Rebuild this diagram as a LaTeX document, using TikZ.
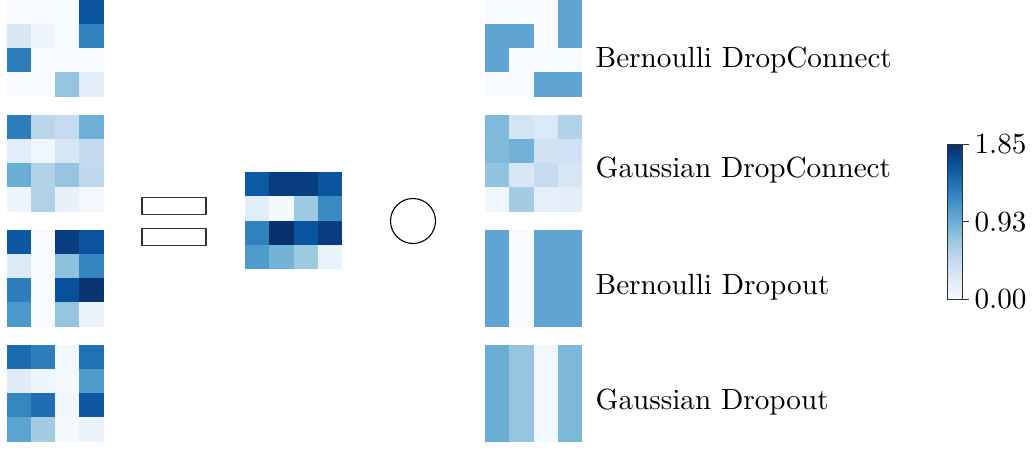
\documentclass[tikz,border=0pt]{standalone}
\usepackage{tikz}
\newcommand\cs{24.25}
\newcommand\hm[3]{%
  \foreach \c [count=\i from 0] in {#3} {
    \pgfmathtruncatemacro\rr{int(\i/4)}
    \pgfmathtruncatemacro\cc{mod(\i,4)}
    \definecolor{tmpc}{HTML}{\c}
    \fill[tmpc] ({#1+\cc*\cs},{#2+\rr*\cs}) rectangle +(\cs+0.2,\cs+0.2);
  }}
\definecolor{bA}{HTML}{F7FBFF}
\definecolor{bB}{HTML}{DEEBF7}
\definecolor{bC}{HTML}{C6DBEF}
\definecolor{bD}{HTML}{9ECAE1}
\definecolor{bE}{HTML}{6BAED6}
\definecolor{bF}{HTML}{4292C6}
\definecolor{bG}{HTML}{2171B5}
\definecolor{bH}{HTML}{08519C}
\definecolor{bI}{HTML}{08306B}
\definecolor{framegray}{HTML}{333333}
\tikzset{
  lbl/.style={anchor=base west, inner sep=0pt, scale=2.92, font=\fontsize{10}{12}\selectfont},
  ticklbl/.style={anchor=west, inner sep=0pt, scale=2.92, font=\fontsize{10}{12}\selectfont},
  eqbar/.style={draw=framegray, line width=1.3pt},
}
\begin{document}
\begin{tikzpicture}[x=1pt,y=-1pt]
\useasboundingbox (0,0) rectangle (1035,450);
% left column
\hm{6.5}{-0.5}{F7FBFF,F7FBFF,F7FBFF,0B559F, DAE8F5,EEF5FC,F7FBFF,3282BE, 2E7EBC,F7FBFF,F7FBFF,F7FBFF, F7FBFF,F7FBFF,94C4DF,E3EEF8}
\hm{6.5}{114.5}{2E7EBC,BAD6EB,C6DBEF,6FB0D7, E1EDF8,EFF6FC,D6E6F4,C2D9EE, 6AAED6,B2D2E8,94C4DF,BFD8ED, EEF5FC,B0D2E7,E8F1FA,F3F8FE}
\hm{6.5}{229.5}{0D58A1,F7FBFF,083D7F,0A539E, DCE9F6,F7FBFF,8DC1DD,3484BF, 2E7EBC,F7FBFF,08509B,083471, 4B98CA,F7FBFF,94C4DF,EAF2FB}
\hm{6.5}{344.5}{1C6AB0,2E7EBC,F2F8FD,2171B5, DFECF7,EEF5FC,F4F9FE,519CCC, 3686C0,1F6EB3,F2F7FD,0D58A1, 5BA3D0,A3CCE3,F5F9FE,EAF3FB}
% equals sign
\node[eqbar, minimum width=64pt, minimum height=17pt, inner sep=0pt] (eq1) at (174,205.8) {};
\node[eqbar, minimum width=64pt, minimum height=17pt, inner sep=0pt] (eq2) at (174,236.7) {};
% middle matrix
\hm{245}{172}{0D59A2,083D7F,083D7F,0B559F, E1EDF8,F5FAFE,9DCAE1,3A8AC2, 3181BD,08306B,0A539E,083C7D, 4F9BCB,74B3D8,9DCAE1,EAF3FB}
% Hadamard circle
\node[draw=black, line width=1.1pt, circle, minimum size=45pt, inner sep=0pt] (had) at (413,221) {};
% right column
\hm{485}{-0.5}{F7FBFF,F7FBFF,F7FBFF,60A5D2, 60A5D2,60A5D2,F7FBFF,60A5D2, 60A5D2,F7FBFF,F7FBFF,F7FBFF, F7FBFF,F7FBFF,60A5D2,60A5D2}
\hm{485}{114.5}{7FB9DC,D3E4F3,DBE9F6,B2D2E8, 7FB9DC,72B2D8,D0E1F2,CFE1F2, 93C4DF,D9E7F5,C6DBEF,D6E6F4, EFF6FC,A3CCE3,E5EFF9,E3EEF9}
\hm{485}{229.5}{60A5D2,F7FBFF,60A5D2,60A5D2, 60A5D2,F7FBFF,60A5D2,60A5D2, 60A5D2,F7FBFF,60A5D2,60A5D2, 60A5D2,F7FBFF,60A5D2,60A5D2}
\hm{485}{344.5}{6AAED6,94C4DF,F2F8FD,7DB8DA, 6AAED6,94C4DF,F2F8FD,7DB8DA, 6AAED6,94C4DF,F2F8FD,7DB8DA, 6AAED6,94C4DF,F2F8FD,7DB8DA}
% labels
\node[lbl] (l1) at (595,67) {Bernoulli DropConnect};
\node[lbl] (l2) at (595,177) {Gaussian DropConnect};
\node[lbl] (l3) at (595,294) {Bernoulli Dropout};
\node[lbl] (l4) at (595,409) {Gaussian Dropout};
% colorbar
\def\cbx{947.5}\def\cbw{15}\def\cbt{144.5}\def\cbb{299}
\pgfmathsetmacro\seg{(\cbb-\cbt)/8}
\foreach \lo/\hi [count=\k from 0] in {bA/bB,bB/bC,bC/bD,bD/bE,bE/bF,bF/bG,bG/bH,bH/bI}{
  \shade[bottom color=\lo, top color=\hi] (\cbx,{\cbb-\k*\seg+0.3}) rectangle (\cbx+\cbw,{\cbb-(\k+1)*\seg});
}
\draw[framegray, line width=1pt] (\cbx,\cbt) rectangle (\cbx+\cbw,\cbb);
\coordinate (t1) at (\cbx+\cbw,\cbt);
\coordinate (t2) at (\cbx+\cbw,{(\cbt+\cbb)/2});
\coordinate (t3) at (\cbx+\cbw,\cbb);
\draw[framegray, line width=1pt] (t1) -- ++(6.5,0) coordinate (e1);
\draw[framegray, line width=1pt] (t2) -- ++(6.5,0) coordinate (e2);
\draw[framegray, line width=1pt] (t3) -- ++(6.5,0) coordinate (e3);
\node[ticklbl] (v1) at ([xshift=5pt]e1) {1.85};
\node[ticklbl] (v2) at ([xshift=5pt]e2) {0.93};
\node[ticklbl] (v3) at ([xshift=5pt]e3) {0.00};
\end{tikzpicture}
\end{document}
